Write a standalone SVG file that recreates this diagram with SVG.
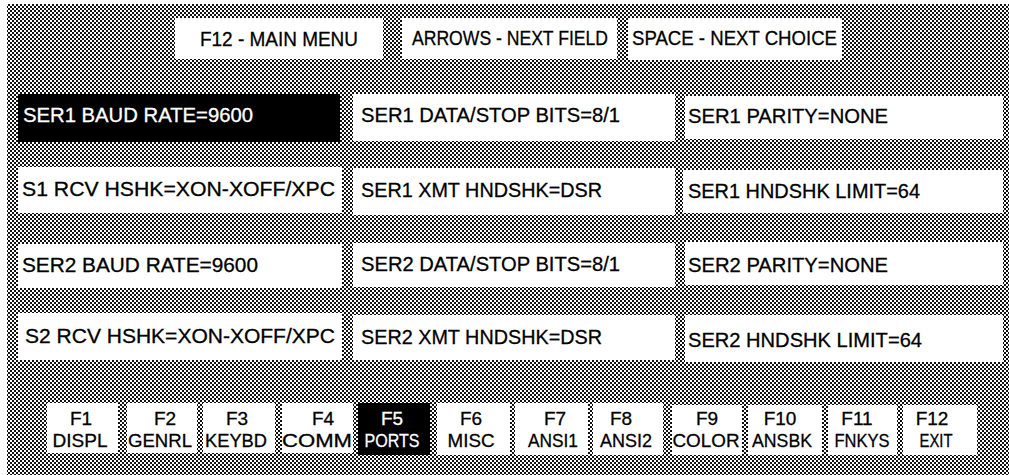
<svg xmlns="http://www.w3.org/2000/svg" width="1009" height="475" viewBox="0 0 1009 475">
<defs>
<pattern id="dither" width="4" height="4" patternUnits="userSpaceOnUse">
<rect width="4" height="4" fill="#fff"/>
<path d="M0 0h2v2H0zM2 2h2v2H2z" fill="#111"/>
</pattern>
<style>
.box{fill:#fff}
.sel{fill:#000}
.t{font-family:"Liberation Sans",Arial,sans-serif;font-size:20.5px;fill:#000;stroke:#000;stroke-width:0.3}
.tw{font-family:"Liberation Sans",Arial,sans-serif;font-size:20.5px;fill:#fff;stroke:#fff;stroke-width:0.3}
.k{font-family:"Liberation Sans",Arial,sans-serif;font-size:19px;fill:#000;stroke:#000;stroke-width:0.3;text-anchor:middle}
.kw{font-family:"Liberation Sans",Arial,sans-serif;font-size:19px;fill:#fff;stroke:#fff;stroke-width:0.3;text-anchor:middle}
</style>
</defs>
<rect width="1009" height="475" fill="#fff"/>
<rect x="7" y="4" width="1002" height="471" fill="url(#dither)"/>

<g id="menu-main"><rect class="box" x="175" y="18" width="208" height="41"/><text class="t" x="200" y="46" textLength="158" lengthAdjust="spacingAndGlyphs">F12 - MAIN MENU</text></g>
<g id="menu-arrows"><rect class="box" x="402" y="18" width="215" height="41"/><text class="t" x="412" y="45" textLength="196" lengthAdjust="spacingAndGlyphs">ARROWS - NEXT FIELD</text></g>
<g id="menu-space"><rect class="box" x="628" y="18" width="214" height="42"/><text class="t" x="632" y="45" textLength="205" lengthAdjust="spacingAndGlyphs">SPACE - NEXT CHOICE</text></g>

<g id="ser1-baud"><rect class="sel" x="18" y="94" width="322" height="48"/><text class="tw" x="23" y="122" textLength="230" lengthAdjust="spacingAndGlyphs">SER1 BAUD RATE=9600</text></g>
<g id="ser1-data"><rect class="box" x="353" y="94" width="322" height="47"/><text class="t" x="361" y="122" textLength="259" lengthAdjust="spacingAndGlyphs">SER1 DATA/STOP BITS=8/1</text></g>
<g id="ser1-parity"><rect class="box" x="685" y="96" width="318" height="43"/><text class="t" x="688" y="123" textLength="200" lengthAdjust="spacingAndGlyphs">SER1 PARITY=NONE</text></g>

<g id="s1-rcv"><rect class="box" x="18" y="167" width="324" height="46"/><text class="t" x="22" y="196" textLength="313" lengthAdjust="spacingAndGlyphs">S1 RCV HSHK=XON-XOFF/XPC</text></g>
<g id="ser1-xmt"><rect class="box" x="353" y="168" width="322" height="47"/><text class="t" x="361" y="197" textLength="241" lengthAdjust="spacingAndGlyphs">SER1 XMT HNDSHK=DSR</text></g>
<g id="ser1-limit"><rect class="box" x="683" y="170" width="320" height="43"/><text class="t" x="688" y="198" textLength="232" lengthAdjust="spacingAndGlyphs">SER1 HNDSHK LIMIT=64</text></g>

<g id="ser2-baud"><rect class="box" x="18" y="244" width="324" height="44"/><text class="t" x="22" y="272" textLength="236" lengthAdjust="spacingAndGlyphs">SER2 BAUD RATE=9600</text></g>
<g id="ser2-data"><rect class="box" x="353" y="243" width="322" height="44"/><text class="t" x="361" y="271" textLength="259" lengthAdjust="spacingAndGlyphs">SER2 DATA/STOP BITS=8/1</text></g>
<g id="ser2-parity"><rect class="box" x="685" y="242" width="318" height="43"/><text class="t" x="688" y="272" textLength="200" lengthAdjust="spacingAndGlyphs">SER2 PARITY=NONE</text></g>

<g id="s2-rcv"><rect class="box" x="18" y="313" width="324" height="47"/><text class="t" x="25" y="343" textLength="310" lengthAdjust="spacingAndGlyphs">S2 RCV HSHK=XON-XOFF/XPC</text></g>
<g id="ser2-xmt"><rect class="box" x="353" y="315" width="322" height="45"/><text class="t" x="361" y="344" textLength="241" lengthAdjust="spacingAndGlyphs">SER2 XMT HNDSHK=DSR</text></g>
<g id="ser2-limit"><rect class="box" x="685" y="315" width="318" height="47"/><text class="t" x="688" y="347" textLength="234" lengthAdjust="spacingAndGlyphs">SER2 HNDSHK LIMIT=64</text></g>

<g id="key-f1"><rect class="box" x="47" y="403" width="71" height="50"/><text class="k" x="81" y="425">F1</text><text class="k" x="80" y="447" textLength="55" lengthAdjust="spacingAndGlyphs">DISPL</text></g>
<g id="key-f2"><rect class="box" x="127" y="403" width="70" height="50"/><text class="k" x="165" y="425">F2</text><text class="k" x="160" y="447" textLength="64" lengthAdjust="spacingAndGlyphs">GENRL</text></g>
<g id="key-f3"><rect class="box" x="203" y="403" width="72" height="50"/><text class="k" x="237" y="425">F3</text><text class="k" x="236" y="447" textLength="62" lengthAdjust="spacingAndGlyphs">KEYBD</text></g>
<g id="key-f4"><rect class="box" x="282" y="403" width="71" height="50"/><text class="k" x="323" y="425">F4</text><text class="k" x="317" y="447" textLength="70" lengthAdjust="spacingAndGlyphs">COMM</text></g>
<g id="key-f5"><rect class="sel" x="358" y="403" width="72" height="52"/><text class="kw" x="392" y="425">F5</text><text class="kw" x="392" y="447" textLength="55" lengthAdjust="spacingAndGlyphs">PORTS</text></g>
<g id="key-f6"><rect class="box" x="437" y="403" width="73" height="52"/><text class="k" x="471" y="425">F6</text><text class="k" x="471" y="447" textLength="47" lengthAdjust="spacingAndGlyphs">MISC</text></g>
<g id="key-f7"><rect class="box" x="515" y="403" width="73" height="52"/><text class="k" x="555" y="425">F7</text><text class="k" x="553" y="447" textLength="50" lengthAdjust="spacingAndGlyphs">ANSI1</text></g>
<g id="key-f8"><rect class="box" x="593" y="403" width="70" height="52"/><text class="k" x="621" y="425">F8</text><text class="k" x="626" y="447" textLength="52" lengthAdjust="spacingAndGlyphs">ANSI2</text></g>
<g id="key-f9"><rect class="box" x="672" y="405" width="70" height="50"/><text class="k" x="707" y="425">F9</text><text class="k" x="706" y="447" textLength="67" lengthAdjust="spacingAndGlyphs">COLOR</text></g>
<g id="key-f10"><rect class="box" x="748" y="405" width="74" height="50"/><text class="k" x="780" y="425">F10</text><text class="k" x="782" y="447" textLength="60" lengthAdjust="spacingAndGlyphs">ANSBK</text></g>
<g id="key-f11"><rect class="box" x="828" y="405" width="69" height="50"/><text class="k" x="857" y="425">F11</text><text class="k" x="862" y="447" textLength="55" lengthAdjust="spacingAndGlyphs">FNKYS</text></g>
<g id="key-f12"><rect class="box" x="903" y="405" width="74" height="50"/><text class="k" x="932" y="425">F12</text><text class="k" x="936" y="447" textLength="33" lengthAdjust="spacingAndGlyphs">EXIT</text></g>

<g id="connectors"/>
</svg>
